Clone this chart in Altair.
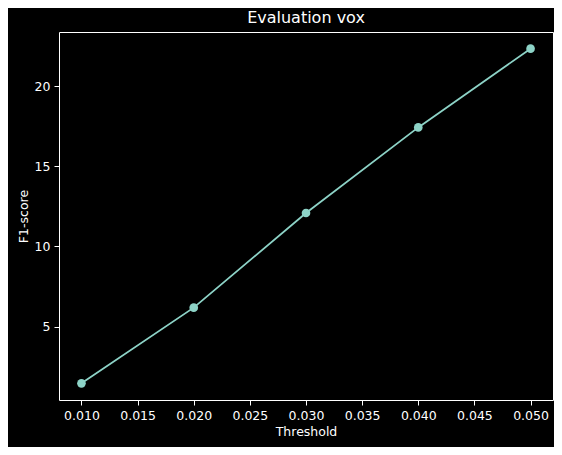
import altair as alt
import pandas as pd

thresholds = [0.01, 0.02, 0.03, 0.04, 0.05]
f1_scores = [1.46, 6.18, 12.08, 17.42, 22.33]

df = pd.DataFrame({"threshold": thresholds, "f1": f1_scores})

x_enc = alt.X(
    "threshold:Q",
    title="Threshold",
    scale=alt.Scale(domain=[0.008, 0.052], nice=False, zero=False),
    axis=alt.Axis(values=[0.01, 0.015, 0.02, 0.025, 0.03, 0.035, 0.04, 0.045, 0.05], format=".3f"),
)
y_enc = alt.Y(
    "f1:Q",
    title="F1-score",
    scale=alt.Scale(domain=[0.42, 23.37], nice=False, zero=False),
    axis=alt.Axis(values=[5, 10, 15, 20]),
)

line = alt.Chart(df).mark_line(color="#8dd3c7", strokeWidth=1.8).encode(x=x_enc, y=y_enc)
points = alt.Chart(df).mark_circle(color="#8dd3c7", size=75, opacity=1).encode(x=x_enc, y=y_enc)

chart = (
    alt.layer(line, points)
    .properties(
        width=494,
        height=368,
        title="Evaluation vox",
        background="black",
        autosize=alt.AutoSizeParams(type="none"),
        padding={"left": 51, "top": 24, "right": 1, "bottom": 47},
    )
    .configure_view(stroke="white", strokeWidth=1)
    .configure_title(color="white", font="DejaVu Sans", fontSize=16, fontWeight="normal", offset=6)
    .configure_axis(
        grid=False,
        domain=False,
        tickColor="white",
        tickSize=5,
        labelColor="white",
        titleColor="white",
        labelFont="DejaVu Sans",
        titleFont="DejaVu Sans",
        labelFontSize=12.5,
        titleFontSize=12.5,
        titleFontWeight="normal",
        labelPadding=4,
        titlePadding=4,
    )
)

chart.save("out.html", embed_options={"renderer": "svg", "actions": False})
